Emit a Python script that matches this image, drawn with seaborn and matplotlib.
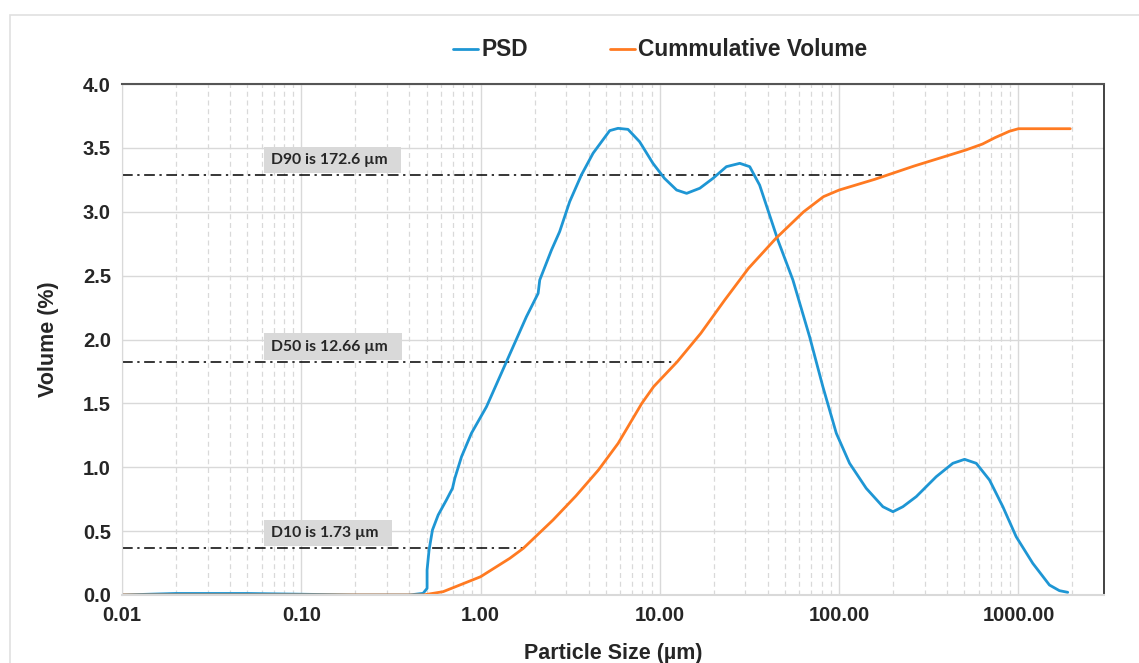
import numpy as np
import pandas as pd
import matplotlib
matplotlib.use("Agg")
import matplotlib.pyplot as plt
import matplotlib.ticker as mticker
from matplotlib.patches import Rectangle
import seaborn as sns

# particle size distribution
psd_size = [0.01, 0.02, 0.05, 0.1, 0.2, 0.4, 0.478, 0.503, 0.503, 0.516, 0.539,
            0.580, 0.645, 0.697, 0.718, 0.783, 0.889, 1.079, 1.394, 1.801, 2.094,
            2.138, 2.485, 2.76, 3.14, 3.65, 4.24, 5.25, 5.84, 6.64, 7.71, 9.15,
            10.6, 12.4, 14.1, 16.7, 19.8, 23.5, 27.9, 31.7, 36.0, 45.5, 55.2,
            68.4, 81.1, 96.4, 114.3, 141.6, 175.4, 199.5, 226.6, 269.1, 347.8,
            430.6, 500.4, 581.5, 689.6, 818.5, 971.4, 1202, 1489, 1692, 1883]
psd_vol = [0.0, 0.012, 0.012, 0.006, 0.0, 0.0, 0.013, 0.052, 0.196, 0.352,
           0.509, 0.626, 0.744, 0.835, 0.913, 1.083, 1.266, 1.474, 1.826, 2.178,
           2.361, 2.466, 2.70, 2.844, 3.079, 3.288, 3.458, 3.635, 3.653, 3.645,
           3.548, 3.379, 3.262, 3.170, 3.144, 3.184, 3.262, 3.353, 3.379, 3.353,
           3.209, 2.779, 2.466, 2.022, 1.631, 1.266, 1.031, 0.835, 0.691, 0.652,
           0.691, 0.770, 0.926, 1.031, 1.062, 1.031, 0.900, 0.691, 0.456, 0.248,
           0.078, 0.034, 0.021]

cum_size = [0.01, 0.3, 0.478, 0.618, 1.0, 1.455, 1.73, 2.535, 3.4, 4.54, 5.85,
            7.93, 9.23, 12.5, 16.9, 23.0, 31.2, 44.4, 63.4, 81.7, 100, 158, 262,
            508, 630, 740, 890, 1000, 1945]
cum_vol = [0.0, 0.0, 0.0, 0.026, 0.143, 0.287, 0.365, 0.587, 0.775, 0.978,
           1.187, 1.500, 1.631, 1.826, 2.048, 2.309, 2.557, 2.792, 3.0, 3.118,
           3.170, 3.254, 3.358, 3.483, 3.53, 3.58, 3.63, 3.65, 3.65]

d_names = ["D10", "D50", "D90"]
d_values = [1.73, 12.66, 172.6]
d_levels = [0.365, 1.825, 3.285]

x_ticks = [0.01, 0.1, 1, 10, 100, 1000]
y_ticks = [0.0, 0.5, 1.0, 1.5, 2.0, 2.5, 3.0, 3.5, 4.0]

blue = "#1E96D4"
orange = "#FF7A21"
grid_col = "#D9D9D9"

df_psd = pd.DataFrame({"size": psd_size, "vol": psd_vol})
df_cum = pd.DataFrame({"size": cum_size, "vol": cum_vol})

sns.set_style("white")
plt.rcParams["font.family"] = ["Liberation Sans", "DejaVu Sans"]

fig = plt.figure(figsize=(11.39, 6.63), dpi=100)
ax = fig.add_axes([122 / 1139, 1 - 595 / 663, (1104 - 122) / 1139, (595 - 84) / 663])

# outer light frame
fig.patches.append(Rectangle((10 / 1139, -0.1), 1.2, (663 - 15) / 663 + 0.1,
                             transform=fig.transFigure, fill=False,
                             edgecolor="#E0E0E0", linewidth=1.2, zorder=0))

sns.lineplot(data=df_psd, x="size", y="vol", ax=ax, color=blue, linewidth=2.0,
             label="PSD", sort=False, estimator=None)
sns.lineplot(data=df_cum, x="size", y="vol", ax=ax, color=orange, linewidth=2.0,
             label="Cummulative Volume", sort=False, estimator=None)

ax.set_xscale("log")
ax.set_xlim(0.01, 3000)
ax.set_ylim(0, 4.0)
ax.set_xticks(x_ticks)
ax.xaxis.set_major_formatter(mticker.FuncFormatter(lambda v, p: f"{v:.2f}"))
ax.xaxis.set_minor_locator(mticker.LogLocator(base=10, subs=np.arange(2, 10), numticks=20))
ax.xaxis.set_minor_formatter(mticker.NullFormatter())
ax.set_yticks(y_ticks)
ax.yaxis.set_major_formatter(mticker.FormatStrFormatter("%.1f"))

ax.grid(True, which="major", axis="both", color=grid_col, linewidth=1.0, linestyle="-")
ax.grid(True, which="minor", axis="x", color=grid_col, linewidth=0.9, linestyle=(0, (4, 3)))
ax.set_axisbelow(True)
ax.tick_params(axis="both", which="both", length=0, labelsize=14.5, pad=8)
for lab in ax.get_xticklabels() + ax.get_yticklabels():
    lab.set_fontweight("bold")

ax.spines["top"].set_color("#555555")
ax.spines["top"].set_linewidth(1.5)
ax.spines["right"].set_color("#222222")
ax.spines["right"].set_linewidth(1.2)
ax.spines["left"].set_color(grid_col)
ax.spines["bottom"].set_color(grid_col)
ax.spines["bottom"].set_linewidth(1.5)

ax.set_xlabel("Particle Size (\u00b5m)", fontsize=15.5, fontweight="bold", labelpad=13)
ax.set_ylabel("Volume (%)", fontsize=15.5, fontweight="bold", labelpad=17)

# D10 / D50 / D90 markers
for name, val, lev in zip(d_names, d_values, d_levels):
    ax.hlines(lev, 0.01, val, colors="black", linewidth=1.1,
              linestyles=[(0, (7, 3, 1.5, 3))], zorder=1.5)
    ax.annotate(f"{name} is {val:g} \u00b5m\u2002", xy=(0.0675, lev), xytext=(0, 11),
                textcoords="offset points", va="center", ha="left",
                fontsize=11.3, fontweight="bold", family=["Lato", "DejaVu Sans"],
                color="#262626",
                bbox=dict(boxstyle="square,pad=0.4", facecolor="#D9D9D9",
                          edgecolor="none"), zorder=2.5)

ax.get_legend().remove()
handles, labels = ax.get_legend_handles_labels()
fig.legend(handles, labels, loc="center", bbox_to_anchor=(660 / 1139, 1 - 50 / 663),
           ncol=2, frameon=False, handlelength=1.1, handletextpad=0.15,
           columnspacing=3.6, prop={"weight": "bold", "size": 16.4})

fig.savefig("out.png", dpi=100)
